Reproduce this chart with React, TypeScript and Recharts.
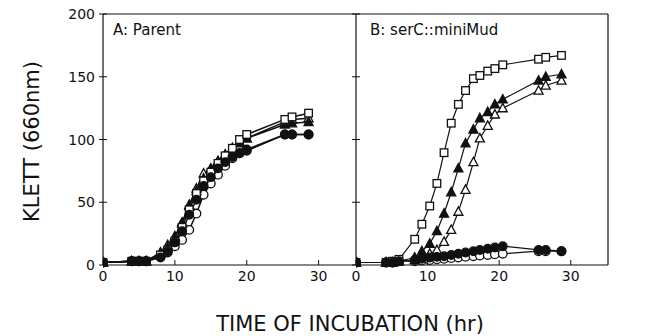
import React from 'react';
import { LineChart, Line, XAxis, YAxis, ReferenceLine } from 'recharts';

// incubation times (hr)
const timesA = [0, 4, 5, 6, 8, 9, 10, 11, 12, 13, 14, 15, 16, 17, 18, 19, 20, 25.3, 26.3, 28.6];
const timesB = [0, 4.2, 5.1, 6, 8.2, 9.2, 10.3, 11.3, 12.3, 13.3, 14.3, 15.3, 16.4, 17.3, 18.4, 19.4, 20.5, 25.5, 26.5, 28.7];

// A: Parent
const parentOpenSquare = [2, 3, 3, 3, 8, 12, 19, 30, 44, 57, 67, 74, 81, 87, 93, 100, 104, 116, 118, 121];
const parentFilledTri = [2, 3, 3, 3, 9, 14, 22, 33, 47, 59, 69, 76, 82, 88, 93, 97, 101, 112, 113, 114];
const parentOpenTri = [2, 3, 3, 3, 10, 16, 23, 34, 48, 61, 73, 77, 83, 88, 93, 98, 101, 114, 116, 117];
const parentFilledCircle = [2, 3, 3, 3, 6, 11, 18, 27, 40, 52, 63, 70, 77, 82, 86, 89, 91, 104, 104, 104];
const parentOpenCircle = [2, 3, 3, 3, 7, 10, 15, 20, 28, 41, 56, 65, 72, 79, 85, 89, 92, 104, 104, 104];

// B: serC::miniMud
const mudOpenSquare = [2, 2, 3, 4.5, 20.5, 32.5, 47, 65, 89.5, 113, 128, 139, 148.5, 151, 154.5, 156.5, 159.5, 164, 165.5, 167];
const mudFilledTri = [2, 2, 2, 3, 6, 11, 17, 27, 41, 58, 77, 97, 108, 117, 122, 128, 132, 147, 150, 152];
const mudOpenTri = [2, 2, 2, 3, 4, 7, 9, 12, 18.5, 28, 42.5, 60, 82, 101, 111, 120, 125, 139, 143, 147];
const mudFilledCircle = [2, 2, 2, 3, 4, 5, 6, 6.5, 7, 8, 9, 10, 11, 12, 13, 14, 15, 12, 12, 11];
const mudOpenCircle = [2, 2, 2, 3, 3, 3.5, 4, 4.5, 5, 5.5, 6, 6.5, 7, 7.5, 8, 8.5, 9, 11, 11, 11];

const xTicks = [0, 10, 20, 30];
const yTicks = [0, 50, 100, 150, 200];

const dataA = timesA.map((t, i) => ({
  t,
  os: parentOpenSquare[i],
  ft: parentFilledTri[i],
  ot: parentOpenTri[i],
  fc: parentFilledCircle[i],
  oc: parentOpenCircle[i],
}));

const dataB = timesB.map((t, i) => ({
  t,
  os: mudOpenSquare[i],
  ft: mudFilledTri[i],
  ot: mudOpenTri[i],
  fc: mudFilledCircle[i],
  oc: mudOpenCircle[i],
}));

const INK = '#111';
const FONT = 'DejaVu Sans';

const marker = (shape: string, filled: boolean) => (props: any) => {
  const { cx, cy, index } = props;
  const fill = filled ? INK : '#fff';
  if (cx == null || cy == null) return <g key={index} />;
  if (shape === 'square') {
    return <rect key={index} x={cx - 3.8} y={cy - 3.8} width={7.6} height={7.6} fill={fill} stroke={INK} strokeWidth={1.3} />;
  }
  if (shape === 'triangle') {
    const pts = `${cx},${cy - 4.8} ${cx - 4.5},${cy + 3.6} ${cx + 4.5},${cy + 3.6}`;
    return <polygon key={index} points={pts} fill={fill} stroke={INK} strokeWidth={1.3} />;
  }
  return <circle key={index} cx={cx} cy={cy} r={4.3} fill={fill} stroke={INK} strokeWidth={1.3} />;
};

// y ticks crossing the axis line, with or without a label
const yTick = (side: 'left' | 'right' | 'none') => (props: any) => {
  const { x, y, payload } = props;
  return (
    <g>
      <line x1={x - 4} x2={x + 4} y1={y} y2={y} stroke={INK} strokeWidth={1} />
      {side === 'left' && (
        <text x={x - 8} y={y + 5} textAnchor="end" fontFamily={FONT} fontSize={14} fill={INK}>
          {payload.value}
        </text>
      )}
      {side === 'right' && (
        <text x={x + 6} y={y + 5} textAnchor="start" fontFamily={FONT} fontSize={14} fill={INK}>
          {payload.value}
        </text>
      )}
    </g>
  );
};

const xTick = (props: any) => {
  const { x, y, payload } = props;
  return (
    <g>
      <line x1={x} x2={x} y1={y} y2={y - 5} stroke={INK} strokeWidth={1} />
      <text x={x} y={y + 16} textAnchor="middle" fontFamily={FONT} fontSize={14} fill={INK}>
        {payload.value}
      </text>
    </g>
  );
};

// drawing order: filled circles last so they sit on top, as in the print
const series = [
  { key: 'oc', shape: 'circle', filled: false },
  { key: 'ot', shape: 'triangle', filled: false },
  { key: 'ft', shape: 'triangle', filled: true },
  { key: 'os', shape: 'square', filled: false },
  { key: 'fc', shape: 'circle', filled: true },
];

const renderLines = (width: number) =>
  series.map((s) => (
    <Line
      key={s.key}
      yAxisId="l"
      type="linear"
      dataKey={s.key}
      stroke={INK}
      strokeWidth={width}
      dot={marker(s.shape, s.filled)}
      activeDot={false}
      isAnimationActive={false}
    />
  ));

const xAxisProps = {
  dataKey: 't',
  type: 'number' as const,
  domain: [0, 35.2],
  ticks: xTicks,
  height: 25,
  tickSize: 0,
  tickMargin: 0,
  tickLine: false,
  axisLine: { stroke: INK, strokeWidth: 1.2 },
  tick: xTick,
  interval: 0 as const,
  allowDataOverflow: true,
};

export default function App() {
  return (
    <div style={{ position: 'absolute', left: 0, top: 0, width: 653, height: 336, background: '#fff' }}>
      <div style={{ position: 'absolute', left: 0, top: 0 }}>
        <LineChart width={370} height={290} data={dataA} margin={{ top: 14, right: 14, bottom: 0, left: 0 }}>
          <XAxis {...xAxisProps} />
          <YAxis
            yAxisId="l"
            width={103}
            domain={[0, 200]}
            ticks={yTicks}
            tickSize={0}
            tickMargin={0}
            tickLine={false}
            axisLine={{ stroke: INK, strokeWidth: 1.2 }}
            tick={yTick('left')}
            interval={0}
          />
          <ReferenceLine yAxisId="l" y={200} stroke={INK} strokeWidth={1.2} />
          {renderLines(1.5)}
        </LineChart>
      </div>
      <div style={{ position: 'absolute', left: 300, top: 0 }}>
        <LineChart width={353} height={290} data={dataB} margin={{ top: 14, right: 0, bottom: 0, left: 0 }}>
          <XAxis {...xAxisProps} />
          <YAxis
            yAxisId="l"
            width={56}
            domain={[0, 200]}
            ticks={yTicks}
            tickSize={0}
            tickMargin={0}
            tickLine={false}
            axisLine={{ stroke: INK, strokeWidth: 1.2 }}
            tick={yTick('none')}
            interval={0}
          />
          <YAxis
            yAxisId="r"
            orientation="right"
            width={45}
            domain={[0, 200]}
            ticks={yTicks}
            tickSize={0}
            tickMargin={0}
            tickLine={false}
            axisLine={{ stroke: INK, strokeWidth: 1.2 }}
            tick={yTick('right')}
            interval={0}
          />
          <ReferenceLine yAxisId="l" y={200} stroke={INK} strokeWidth={1.2} />
          {renderLines(1.2)}
        </LineChart>
      </div>
      <svg
        width={653}
        height={336}
        style={{ position: 'absolute', left: 0, top: 0, pointerEvents: 'none' }}
      >
        <text
          transform="translate(32,141.5) rotate(-90)"
          textAnchor="middle"
          dominantBaseline="central"
          fontFamily={FONT}
          fontSize={21}
          fill={INK}
        >
          KLETT (660nm)
        </text>
        <text x={350} y={331} textAnchor="middle" fontFamily={FONT} fontSize={21} fill={INK}>
          TIME OF INCUBATION (hr)
        </text>
        <text x={113} y={35} fontFamily={FONT} fontSize={15} fill={INK}>
          A: Parent
        </text>
        <text x={370} y={35} fontFamily={FONT} fontSize={15} fill={INK}>
          B: serC::miniMud
        </text>
      </svg>
    </div>
  );
}
